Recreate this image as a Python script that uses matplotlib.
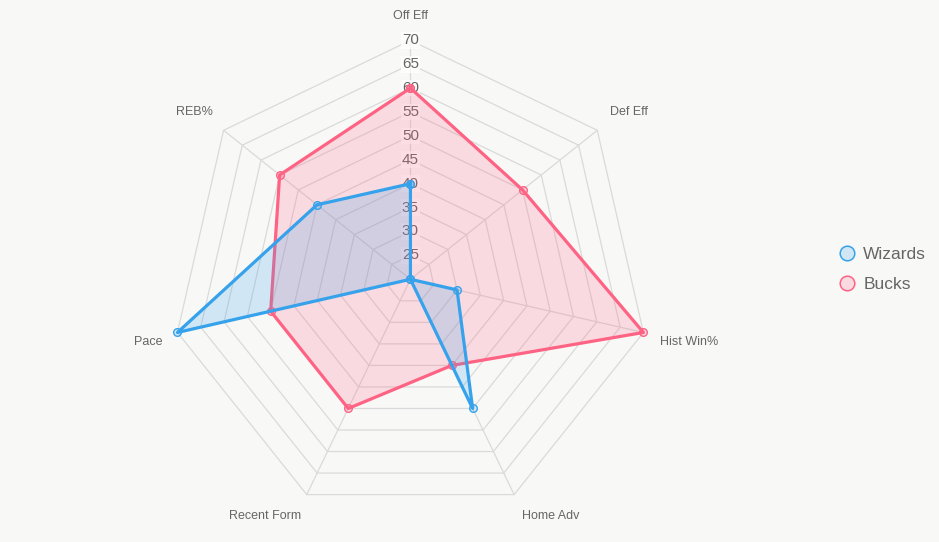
import numpy as np
import matplotlib
matplotlib.use("Agg")
import matplotlib.pyplot as plt
from matplotlib.lines import Line2D

plt.rcParams['font.family'] = ['Liberation Sans', 'DejaVu Sans']

# data
categories = ["Off Eff", "Def Eff", "Hist Win%", "Home Adv", "Recent Form", "Pace", "REB%"]
wizards = [40, 20, 30, 50, 20, 70, 45]
bucks = [60, 50, 70, 40, 50, 50, 55]
ticks = [25, 30, 35, 40, 45, 50, 55, 60, 65, 70]
r_min, r_max = 20, 70

bg = "#f8f8f7"
grid_c = "#dadada"
text_c = "#666666"
blue = "#36a2eb"
pink = "#ff6384"

fig = plt.figure(figsize=(9.39, 5.42), dpi=100, facecolor=bg)
ax = fig.add_axes([0.1826, 0.0437, 0.509, 0.882], projection="polar")
ax.set_facecolor(bg)
ax.set_theta_zero_location("N")
ax.set_theta_direction(-1)
ax.set_ylim(r_min, r_max)
ax.grid(False)
ax.spines["polar"].set_visible(False)
ax.set_xticks([])
ax.set_yticks([])

n = len(categories)
theta = np.arange(n) * 2 * np.pi / n
theta_c = np.append(theta, theta[0])

# polygon grid
for v in ticks:
    ax.plot(theta_c, [v] * (n + 1), color=grid_c, lw=0.9, zorder=1, clip_on=False)
for t in theta:
    ax.plot([t, t], [r_min, r_max], color=grid_c, lw=0.9, zorder=1, clip_on=False)

# tick labels along first axis
for v in ticks:
    ax.text(0, v, str(v), ha="center", va="center", fontsize=11, color=text_c, zorder=2,
            bbox=dict(facecolor="white", alpha=0.75, edgecolor="none", pad=1))

# category labels
offsets = [(0, 24, "center"), (13, 18, "left"), (17, -10, "left"), (8, -21, "left"),
           (-6, -21, "right"), (-15, -10, "right"), (-11, 18, "right")]
for t, name, (dx, dy, ha) in zip(theta, categories, offsets):
    ax.annotate(name, xy=(t, r_max), xytext=(dx, dy), textcoords="offset pixels",
                ha=ha, va="center", fontsize=9, color=text_c, annotation_clip=False)

# datasets (Bucks below Wizards)
for vals, col, z in [(bucks, pink, 3), (wizards, blue, 4)]:
    vc = vals + vals[:1]
    ax.fill(theta_c, vc, color=col, alpha=0.2, lw=0, zorder=z, clip_on=False)
    ax.plot(theta_c, vc, color=col, lw=2.3, zorder=z, clip_on=False,
            marker="o", markersize=5.5, markerfacecolor=matplotlib.colors.to_rgba(col, 0.2),
            markeredgecolor=col, markeredgewidth=1)

handles = [
    Line2D([], [], ls="none", marker="o", markersize=10.5, markerfacecolor=matplotlib.colors.to_rgba(blue, 0.2),
           markeredgecolor=blue, markeredgewidth=1.1),
    Line2D([], [], ls="none", marker="o", markersize=10.5, markerfacecolor=matplotlib.colors.to_rgba(pink, 0.2),
           markeredgecolor=pink, markeredgewidth=1.1),
]
fig.legend(handles, ["Wizards", "Bucks"], loc="center left", bbox_to_anchor=(0.874, 0.503),
           frameon=False, fontsize=12.5, labelcolor=text_c, handletextpad=0.35, labelspacing=0.82,
           handlelength=1.2)

fig.savefig("out.png", dpi=100, facecolor=bg)
